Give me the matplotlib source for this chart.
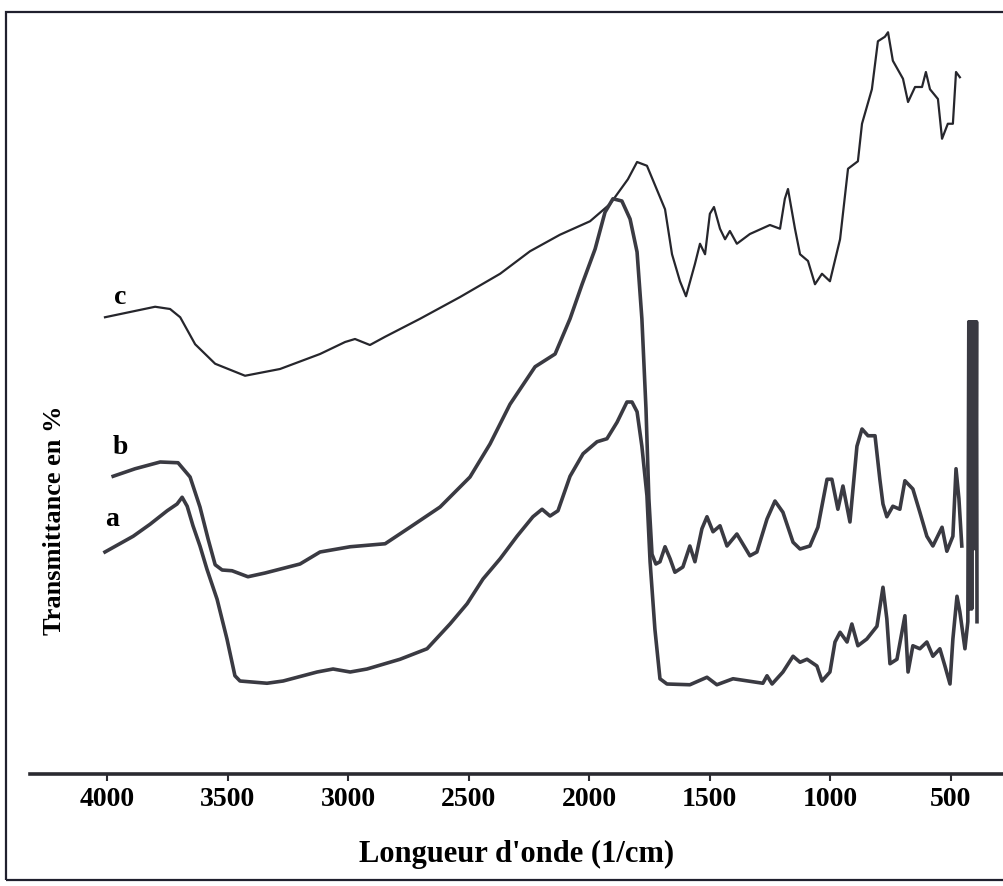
import matplotlib
matplotlib.use("Agg")
import matplotlib.pyplot as plt
from matplotlib.patches import Rectangle

# spectre c
nu_c = [4009, 3905, 3801, 3739, 3697, 3635, 3552, 3428, 3283, 3117, 3013, 2972, 2910, 2847,
        2702, 2536, 2370, 2246, 2122, 1997, 1914, 1840, 1802, 1761, 1686, 1657, 1624, 1599,
        1562, 1541, 1520, 1500, 1483, 1458, 1437, 1417, 1388, 1334, 1251, 1209, 1189, 1176,
        1147, 1126, 1093, 1064, 1035, 1002, 960, 927, 886, 869, 828, 803, 774, 761, 741, 699,
        678, 649, 620, 604, 587, 554, 537, 513, 492, 479, 463]
t_c = [60.9, 61.6, 62.3, 62.0, 60.9, 57.3, 54.7, 53.1, 54.0, 56.0, 57.6, 58.0, 57.2, 58.3,
       60.7, 63.6, 66.7, 69.7, 71.9, 73.7, 76.0, 79.3, 81.6, 81.1, 75.3, 69.3, 65.7, 63.7,
       68.0, 70.7, 69.3, 74.7, 75.6, 72.7, 71.3, 72.4, 70.7, 72.0, 73.2, 72.7, 76.7, 78.0,
       72.7, 69.3, 68.4, 65.3, 66.7, 65.7, 71.3, 80.7, 81.7, 86.7, 91.3, 97.7, 98.3, 98.9, 95.1, 92.7,
       89.6, 91.6, 91.6, 93.6, 91.3, 90.0, 84.7, 86.7, 86.7, 93.6, 92.9]

# spectre b
nu_b = [3975, 3884, 3780, 3706, 3656, 3615, 3581, 3552, 3523, 3482, 3416, 3345, 3200, 3117,
        2992, 2847, 2744, 2619, 2495, 2412, 2329, 2225, 2142, 2080, 2030, 1976, 1935, 1902,
        1865, 1831, 1802, 1782, 1765, 1753, 1740, 1724, 1707, 1686, 1665, 1645, 1612, 1583,
        1562, 1533, 1512, 1487, 1458, 1429, 1388, 1334, 1305, 1263, 1230, 1197, 1155, 1126,
        1085, 1052, 1014, 994, 969, 948, 919, 890, 869, 844, 815, 795, 782, 766, 741, 712,
        691, 658, 629, 600, 575, 537, 517, 492, 479, 467, 455]
t_b = [39.7, 40.7, 41.6, 41.5, 39.6, 35.6, 31.3, 27.9, 27.2, 27.1, 26.3, 26.8, 28.0, 29.6,
       30.3, 30.7, 32.9, 35.6, 39.6, 44.0, 49.3, 54.3, 56.0, 60.7, 65.3, 70.0, 74.9, 76.7,
       76.4, 74.0, 69.6, 60.7, 48.7, 36.7, 29.3, 28.0, 28.3, 30.3, 28.7, 26.9, 27.6, 30.4,
       28.3, 32.7, 34.3, 32.3, 33.1, 30.4, 32.0, 29.1, 29.6, 34.0, 36.4, 34.9, 30.9, 30.0,
       30.4, 32.9, 39.3, 39.3, 35.3, 38.4, 33.6, 43.7, 46.0, 45.1, 45.1, 39.3, 36.0, 34.3, 35.7, 35.3,
       39.1, 38.0, 34.9, 31.7, 30.4, 32.9, 29.7, 31.7, 40.7, 36.7, 30.4]

# spectre a
nu_a = [4009, 3892, 3822, 3751, 3710, 3689, 3668, 3644, 3615, 3586, 3544, 3503, 3470, 3449,
        3337, 3270, 3129, 3063, 2992, 2922, 2785, 2673, 2578, 2507, 2441, 2370, 2300, 2234,
        2196, 2163, 2130, 2080, 2026, 1968, 1927, 1885, 1844, 1823, 1802, 1782, 1761, 1748,
        1728, 1707, 1678, 1583, 1512, 1471, 1404, 1280, 1263, 1242, 1197, 1155, 1126, 1097,
        1056, 1035, 1002, 981, 960, 931, 911, 886, 849, 807, 782, 766, 753, 724, 691, 678,
        658, 629, 600, 575, 546, 525, 504, 492, 475, 463, 442, 430,
        426, 423, 421, 419, 417, 414, 412, 409, 406, 403, 400, 397, 394, 392]
t_a = [29.6, 31.7, 33.3, 35.1, 36.0, 36.9, 35.7, 33.1, 30.4, 27.3, 23.3, 18.0, 13.1, 12.4,
       12.1, 12.4, 13.6, 14.0, 13.6, 14.0, 15.3, 16.7, 20.0, 22.7, 26.0, 28.7, 31.7, 34.3,
       35.3, 34.4, 35.1, 39.7, 42.7, 44.3, 44.7, 46.9, 49.6, 49.6, 48.3, 43.7, 37.1, 28.3,
       19.3, 12.7, 12.0, 11.9, 12.9, 11.9, 12.7, 12.1, 13.1, 12.0, 13.6, 15.7, 14.9, 15.3,
       14.4, 12.4, 13.6, 17.6, 18.9, 17.6, 20.0, 17.1, 18.0, 19.7, 24.9, 20.7, 14.7, 15.3, 21.1, 13.6,
       17.1, 16.7, 17.6, 15.7, 16.7, 14.4, 12.0, 18.0, 23.7, 21.6, 16.7, 20.3,
       60.3, 22.0, 60.3, 25.0, 60.3, 22.0, 60.3, 30.0, 60.3, 35.0, 60.3, 30.0, 60.3, 20.3]

ticks = [4000, 3500, 3000, 2500, 2000, 1500, 1000, 500]
serif = ['Liberation Serif', 'DejaVu Serif']

fig = plt.figure(figsize=(10.04, 8.87), dpi=100)
ax = fig.add_axes([30 / 1004, 112 / 887, 974 / 1004, 750 / 887])

trait = '#3a3a42'
ax.plot(nu_c, t_c, color='#26262c', lw=1.6)
ax.plot(nu_b, t_b, color=trait, lw=2.6)
ax.plot(nu_a, t_a, color=trait, lw=2.6)

ax.set_xlim(4320, 280)
ax.set_ylim(0, 100)

for s in ['top', 'right', 'left']:
    ax.spines[s].set_visible(False)
ax.spines['bottom'].set_linewidth(2.6)
ax.spines['bottom'].set_color('#2a2a30')

ax.set_yticks([])
ax.set_xticks(ticks)
ax.set_xticklabels([str(t) for t in ticks], family=serif, fontweight='bold', fontsize=20)
ax.tick_params(axis='x', direction='out', length=5, width=1.5, color='#2a2a30', pad=4)

ax.set_xlabel("Longueur d'onde (1/cm)", family=serif, fontweight='bold', fontsize=22,
              labelpad=20)
fig.text(55 / 1004, 1 - 520 / 887, 'Transmittance en %', rotation=90, ha='center',
         va='center', family=serif, fontweight='bold', fontsize=19)

for lab, x, y in [('c', 3946, 63.7), ('b', 3946, 43.6), ('a', 3980, 34.0)]:
    ax.text(x, y, lab, ha='center', va='center', family=serif, fontweight='bold', fontsize=20)

# cadre autour de la figure
fig.patches.append(Rectangle((6 / 1004, 6 / 887), 1.05, 868 / 887, transform=fig.transFigure,
                             fill=False, lw=1.6, edgecolor='#20202e'))

fig.savefig('out.png', dpi=100)
